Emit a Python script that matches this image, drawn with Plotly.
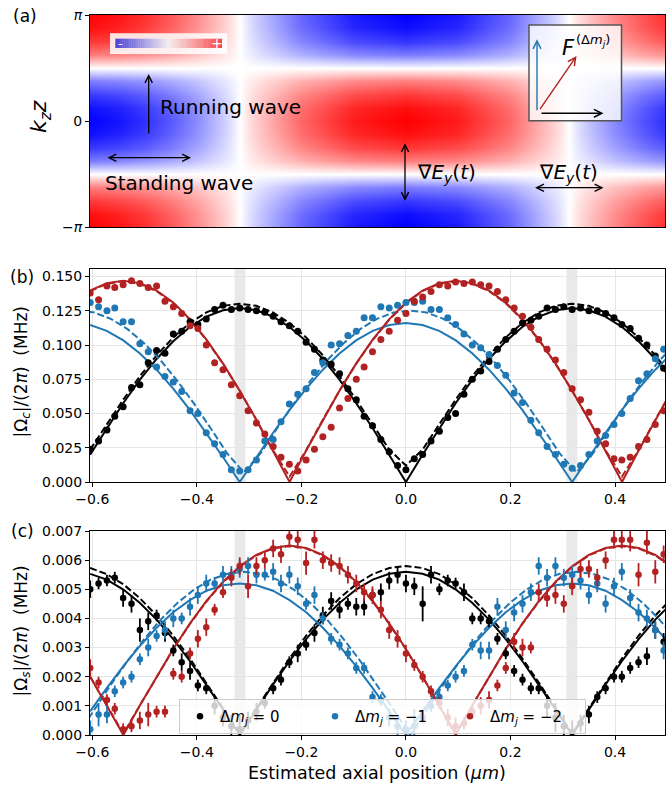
import plotly.graph_objects as go
import math

PI = math.pi

# ---------------- panel (a): field map samples ----------------
field_x = [-0.6045, -0.55, -0.5, -0.45, -0.4, -0.35, -0.335, -0.318, -0.30, -0.28, -0.2, -0.1, 0.0,
           0.1, 0.2, 0.28, 0.295, 0.312, 0.33, 0.35, 0.4, 0.45, 0.4956]
field_x_profile = [-0.99, -0.924, -0.812, -0.654, -0.453, -0.208, -0.12, 0.0, 0.128, 0.24, 0.60, 0.897, 1.0,
                   0.897, 0.60, 0.207, 0.122, 0.0, -0.128, -0.24, -0.475, -0.666, -0.818]
field_kz = [-3.1416, -2.7489, -2.3562, -1.9635, -1.5708, -1.1781, -0.7854, -0.3927, 0.0,
            0.3927, 0.7854, 1.1781, 1.5708, 1.9635, 2.3562, 2.7489, 3.1416]
field_kz_profile = [-1.0, -0.946, -0.785, -0.511, 0.0, 0.511, 0.785, 0.946, 1.0,
                    0.946, 0.785, 0.511, 0.0, -0.511, -0.785, -0.946, -1.0]

# ---------------- fit curves ----------------
x_curve = [-0.6042, -0.5724, -0.5406, -0.5088, -0.477, -0.4452, -0.4134, -0.3816, -0.3498, -0.318,
           -0.2862, -0.2544, -0.2226, -0.1908, -0.159, -0.1272, -0.0954, -0.0636, -0.0318, 0.0,
           0.0318, 0.0636, 0.0954, 0.1272, 0.159, 0.1908, 0.2226, 0.2544, 0.2862, 0.318,
           0.3498, 0.3816, 0.4134, 0.4452, 0.477, 0.5088]
x_curve_shift = [-0.628, -0.5962, -0.5644, -0.5326, -0.5008, -0.469, -0.4372, -0.4054, -0.3736, -0.3418,
                 -0.31, -0.2782, -0.2464, -0.2146, -0.1828, -0.151, -0.1192, -0.0874, -0.0556, -0.0238,
                 0.008, 0.0398, 0.0716, 0.1034, 0.1352, 0.167, 0.1988, 0.2306, 0.2624, 0.2942,
                 0.326, 0.3578, 0.3896, 0.4214, 0.4532, 0.485, 0.5168]

# panel (b)
b_black_fit = [.0199, .0392, .0577, .0747, .0898, .1027, .1132, .1208, .1254, .127, .1254, .1208, .1132, .1027,
               .0898, .0747, .0577, .0392, .0199, 0, .0199, .0392, .0577, .0747, .0898, .1027, .1132, .1208,
               .1254, .127, .1254, .1208, .1132, .1027, .0898, .0747]
b_black_fit2 = [.0236, .042, .0602, .0773, .0925, .1055, .116, .1238, .1286, .1302, .1286, .1238, .116, .1055,
                .0925, .0773, .0602, .042, .0236, .012, .0236, .042, .0602, .0773, .0925, .1055, .116, .1238,
                .1286, .1302, .1286, .1238, .116, .1055, .0925, .0773]
b_blue_fit = [.1146, .1103, .1034, .0938, .082, .0682, .0527, .0358, .0181, 0, .0181, .0358, .0527, .0682,
              .082, .0938, .1034, .1103, .1146, .116, .1146, .1103, .1034, .0938, .082, .0682, .0527, .0358,
              .0181, 0, .0181, .0358, .0527, .0682, .082, .0938]
b_blue_fit2 = [.1252, .1237, .1191, .1116, .1013, .0887, .0738, .0572, .0392, .0208, .007, .0208, .0392, .0572,
               .0738, .0887, .1013, .1116, .1191, .1237, .1252, .1237, .1191, .1116, .1013, .0887, .0738, .0572,
               .0392, .0208, .007, .0208, .0392, .0572, .0738, .0887, .1013]
b_red_fit = [.1398, .1452, .147, .1452, .1398, .131, .1189, .1039, .0864, .0667, .0454, .023, 0, .023, .0454,
             .0667, .0864, .1039, .1189, .131, .1398, .1452, .147, .1452, .1398, .131, .1189, .1039, .0864,
             .0667, .0454, .023, 0, .023, .0454, .0667]
b_red_fit2 = [.1393, .1447, .1465, .1447, .1393, .1305, .1185, .1036, .0862, .0666, .0455, .0233, .004, .0233,
              .0455, .0666, .0862, .1036, .1185, .1305, .1393, .1447, .1465, .1447, .1393, .1305, .1185, .1036,
              .0862, .0666, .0455, .0233, .004, .0233, .0455, .0666]

# panel (c)
c_black_fit = [.00553, .00533, .00499, .00453, .00396, .00329, .00254, .00173, .00088, 0, .00088, .00173,
               .00254, .00329, .00396, .00453, .00499, .00533, .00553, .0056, .00553, .00533, .00499, .00453,
               .00396, .00329, .00254, .00173, .00088, 0, .00088, .00173, .00254, .00329, .00396, .00453]
c_black_fit2 = [.00573, .00552, .00517, .00469, .0041, .00341, .00263, .00179, .00091, .00005, .00091, .00179,
                .00263, .00341, .0041, .00469, .00517, .00552, .00573, .0058, .00573, .00552, .00517, .00469,
                .0041, .00341, .00263, .00179, .00091, .00005, .00091, .00179, .00263, .00341, .0041, .00469]
c_blue_fit = [.00081, .00161, .00236, .00306, .00368, .00421, .00463, .00495, .00514, .0052, .00514, .00495,
              .00463, .00421, .00368, .00306, .00236, .00161, .00081, 0, .00081, .00161, .00236, .00306,
              .00368, .00421, .00463, .00495, .00514, .0052, .00514, .00495, .00463, .00421, .00368, .00306]
c_blue_fit2 = [0, .00088, .00173, .00254, .00329, .00396, .00453, .00499, .00533, .00553, .0056, .00553,
               .00533, .00499, .00453, .00396, .00329, .00254, .00173, .00088, 0, .00088, .00173, .00254,
               .00329, .00396, .00453, .00499, .00533, .00553, .0056, .00553, .00533, .00499, .00453, .00396,
               .00329]
c_red_fit = [.00201, .00102, 0, .00102, .00201, .00295, .00382, .0046, .00526, .00579, .00618, .00642, .0065,
             .00642, .00618, .00579, .00526, .0046, .00382, .00295, .00201, .00102, 0, .00102, .00201, .00295,
             .00382, .0046, .00526, .00579, .00618, .00642, .0065, .00642, .00618, .00579]
c_red_fit2 = [.002, .00102, .00005, .00102, .002, .00294, .00381, .00458, .00524, .00577, .00616, .0064, .00648,
              .0064, .00616, .00577, .00524, .00458, .00381, .00294, .002, .00102, .00005, .00102, .002, .00294,
              .00381, .00458, .00524, .00577, .00616, .0064, .00648, .0064, .00616, .00577]

x_pos = [-0.604, -0.588, -0.572, -0.557, -0.541, -0.525, -0.509, -0.493, -0.477, -0.461,
         -0.445, -0.429, -0.413, -0.398, -0.382, -0.366, -0.350, -0.334, -0.318, -0.302,
         -0.286, -0.270, -0.254, -0.239, -0.223, -0.207, -0.191, -0.175, -0.159, -0.143,
         -0.127, -0.111, -0.095, -0.080, -0.064, -0.048, -0.032, -0.016, 0.000, 0.016,
         0.032, 0.048, 0.064, 0.080, 0.095, 0.111, 0.127, 0.143, 0.159, 0.175,
         0.191, 0.207, 0.223, 0.239, 0.254, 0.270, 0.286, 0.302, 0.318, 0.334,
         0.350, 0.366, 0.382, 0.398, 0.413, 0.429, 0.445, 0.461, 0.477, 0.493]

b_black = [.024, .030, .038, .048, .055, .069, .071, .087, .096, .094,
           .108, .110, .117, .115, .119, .126, .129, .126, .127, .126,
           .125, .124, .121, .117, .114, .110, .102, .097, .089, .086,
           .079, .068, .060, .048, .041, .031, .022, .012, .009, .017,
           .020, .030, .037, .047, .050, .064, .075, .081, .088, .097,
           .104, .110, .116, .118, .121, .127, .126, .128, .126, .127,
           .125, .125, .123, .120, .115, .112, .105, .100, .092, .083]
b_blue = [.131, .128, .125, .127, .117, .117, .101, .095, .084, .077,
          .073, .066, .052, .050, .036, .028, .020, .009, .008, .009,
          .016, .030, .031, .044, .057, .064, .068, .080, .087, .100,
          .101, .107, .110, .120, .120, .128, .127, .129, .131, .131,
          .132, .126, .126, .120, .115, .108, .100, .098, .093, .085,
          .078, .065, .058, .045, .036, .026, .020, .013, .010, .012,
          .020, .030, .034, .042, .050, .061, .074, .079, .090, .097]
b_red = [.138, .133, .143, .142, .144, .147, .145, .142, .143, .132,
         .128, .123, .114, .112, .100, .087, .082, .071, .063, .052,
         .043, .035, .026, .018, .013, .008, .016, .024, .033, .040,
         .054, .061, .075, .084, .095, .104, .110, .118, .123, .132,
         .135, .139, .144, .143, .146, .145, .146, .144, .143, .139,
         .133, .127, .121, .113, .104, .097, .089, .080, .068, .060,
         .051, .037, .028, .017, .016, .018, .026, .031, .042, .052]

c_black = [.0050, .0052, .0053, .0054, .0047, .0045, .0036, .0039, .0041, .0035,
           .0029, .0025, .0022, .0017, .0016, .0010, .0006, .0003, .0002, .0005,
           .0008, .0011, .0016, .0019, .0025, .0028, .0031, .0035, .0041, .0046,
           .0043, .0045, .0044, .0044, .0048, .0049, .0053, .0055, .0052, .0051,
           .0045, .0055, .0050, .0053, .0052, .0049, .0040, .0040, .0039, .0033,
           .0028, .0022, .0019, .0016, .0016, .0010, .0006, .0003, .0001, .0004,
           .0007, .0013, .0016, .0020, .0020, .0023, .0025, .0027, .0036, .0032]
c_blue = [.0002, .0007, .0007, .0015, .0018, .0020, .0026, .0030, .0034, .0036,
          .0040, .0040, .0044, .0048, .0052, .0052, .0055, .0055, .0057, .0058,
          .0055, .0055, .0056, .0052, .0055, .0051, .0045, .0048, .0040, .0033,
          .0031, .0028, .0023, .0023, .0013, .0012, .0006, .0003, .0002, .0003,
          .0006, .0010, .0013, .0017, .0020, .0022, .0031, .0029, .0029, .0044,
          .0036, .0042, .0045, .0049, .0058, .0054, .0058, .0054, .0055, .0053,
          .0048, .0052, .0045, .0051, .0056, .0047, .0042, .0040, .0036, .0029]
c_red = [.0023, .0018, .0012, .0009, .0002, .0003, .0005, .0007, .0008, .0008,
         .0021, .0020, .0028, .0033, .0037, .0043, .0049, .0054, .0058, .0051,
         .0058, .0060, .0064, .0062, .0068, .0067, .0059, .0067, .0060, .0059,
         .0058, .0055, .0052, .0049, .0048, .0043, .0036, .0033, .0028, .0024,
         .0020, .0015, .0011, .0006, .0003, .0004, .0008, .0010, .0012, .0017,
         .0023, .0032, .0030, .0030, .0049, .0047, .0048, .0045, .0051, .0057,
         .0057, .0054, .0060, .0067, .0067, .0067, .0055, .0066, .0056, .0062]

# error bars of panel (c), in units of 1e-4 MHz
c_black_err_e4 = [3, 2, 2, 2, 3, 3, 4, 3, 2, 3, 2, 3, 3, 2, 2, 3, 3, 4, 5, 3,
                  3, 2, 2, 2, 2, 3, 2, 3, 3, 3, 3, 2, 3, 3, 2, 3, 3, 3, 3, 3,
                  6, 3, 2, 2, 2, 3, 2, 2, 2, 2, 2, 2, 2, 2, 2, 4, 5, 4, 4, 3,
                  3, 2, 2, 2, 2, 2, 2, 3, 3, 3]
c_blue_err_e4 = [3, 4, 3, 2, 2, 2, 2, 3, 2, 3, 3, 2, 3, 3, 3, 2, 3, 3, 3, 3,
                 3, 2, 3, 3, 3, 3, 2, 3, 2, 2, 2, 2, 2, 2, 2, 2, 3, 4, 3, 6,
                 2, 2, 2, 2, 2, 2, 2, 3, 3, 3, 3, 3, 3, 3, 3, 3, 3, 3, 3, 3,
                 3, 3, 3, 3, 3, 3, 3, 3, 3, 3]
c_red_err_e4 = [3, 2, 2, 2, 2, 2, 3, 4, 2, 2, 2, 2, 2, 3, 3, 2, 2, 3, 3, 4,
                3, 3, 3, 3, 3, 3, 4, 3, 3, 3, 3, 3, 3, 3, 3, 3, 3, 3, 3, 2,
                2, 2, 2, 3, 3, 2, 2, 3, 3, 2, 2, 3, 3, 2, 3, 3, 3, 3, 3, 3,
                3, 3, 3, 3, 3, 4, 4, 4, 4, 3]

series_names = ["Δ<i>m</i><sub><i>j</i></sub> = 0", "Δ<i>m</i><sub><i>j</i></sub> = −1",
                "Δ<i>m</i><sub><i>j</i></sub> = −2"]
band_edges = [(-0.328, -0.307), (0.307, 0.328)]
b_yticks = [0.0, 0.025, 0.05, 0.075, 0.1, 0.125, 0.15]
c_yticks = [0.0, 0.001, 0.002, 0.003, 0.004, 0.005, 0.006, 0.007]
x_ticks = [-0.6, -0.4, -0.2, 0.0, 0.2, 0.4]

# ---------------- styling ----------------
BLACK = "#000000"
BLUE = "#1f77b4"
RED = "#b22222"
FONT = "DejaVu Sans"
W, H = 672, 785
ML, MR, MT, MB = 90, 7, 15, 50
PW, PH = W - ML - MR, H - MT - MB


def px(x):
    return (x - ML) / PW


def py(y):
    return (H - MB - y) / PH


fig = go.Figure()

# panel (a) heatmap
z_field = [[c * a for a in field_x_profile] for c in field_kz_profile]
bwr = [[0.0, "rgb(0,0,255)"], [0.5, "rgb(255,255,255)"], [1.0, "rgb(255,0,0)"]]
fig.add_trace(go.Heatmap(x=field_x, y=field_kz, z=z_field, colorscale=bwr, zmin=-1, zmax=1,
                         zsmooth="best", showscale=False, hoverinfo="skip", xaxis="x", yaxis="y"))

# fit curves
DASH = "7px,3px"
curve_specs = [
    ("x2", "y2", x_curve, b_black_fit, BLACK, "solid"),
    ("x2", "y2", x_curve, b_black_fit2, BLACK, DASH),
    ("x2", "y2", x_curve, b_blue_fit, BLUE, "solid"),
    ("x2", "y2", x_curve_shift, b_blue_fit2, BLUE, DASH),
    ("x2", "y2", x_curve, b_red_fit, RED, "solid"),
    ("x2", "y2", x_curve, b_red_fit2, RED, DASH),
    ("x3", "y3", x_curve, c_black_fit, BLACK, "solid"),
    ("x3", "y3", x_curve, c_black_fit2, BLACK, DASH),
    ("x3", "y3", x_curve, c_blue_fit, BLUE, "solid"),
    ("x3", "y3", x_curve_shift, c_blue_fit2, BLUE, DASH),
    ("x3", "y3", x_curve, c_red_fit, RED, "solid"),
    ("x3", "y3", x_curve, c_red_fit2, RED, DASH),
]
for xa, ya, xs, ys, col, dash in curve_specs:
    fig.add_trace(go.Scatter(x=xs, y=ys, mode="lines", xaxis=xa, yaxis=ya, showlegend=False,
                             line=dict(color=col, width=2, dash=dash), hoverinfo="skip"))

# measured points panel (b)
for ys, col in [(b_black, BLACK), (b_blue, BLUE), (b_red, RED)]:
    fig.add_trace(go.Scatter(x=x_pos, y=ys, mode="markers", xaxis="x2", yaxis="y2", showlegend=False,
                             marker=dict(color=col, size=7, line=dict(width=0))))

# measured points panel (c)
for ys, err, col, name in [(c_black, c_black_err_e4, BLACK, series_names[0]),
                           (c_blue, c_blue_err_e4, BLUE, series_names[1]),
                           (c_red, c_red_err_e4, RED, series_names[2])]:
    fig.add_trace(go.Scatter(x=x_pos, y=ys, mode="markers", xaxis="x3", yaxis="y3", name=name,
                             marker=dict(color=col, size=6.5, line=dict(width=0)),
                             error_y=dict(type="data", array=[e * 1e-4 for e in err], color=col,
                                          thickness=1.8, width=0)))

# ---------------- axes ----------------
XR = [-0.6044, 0.4956]
tickfont = dict(family=FONT, size=14, color="black")
base_axis = dict(showline=True, linecolor="black", linewidth=1, mirror=True, zeroline=False,
                 ticks="outside", ticklen=4, tickwidth=1, tickcolor="black", tickfont=tickfont)

dom_a = [py(227), py(15)]
dom_b = [py(482), py(269)]
dom_c = [py(735), py(531)]

fig.update_layout(
    xaxis=dict(base_axis, range=XR, anchor="y", domain=[0, 1], showgrid=False, ticks="",
               showticklabels=False),
    yaxis=dict(base_axis, range=[-PI, PI], domain=dom_a, anchor="x", showgrid=False,
               tickvals=[-PI, 0, PI], ticktext=["−<i>π</i>", "0", "<i>π</i>"]),
    xaxis2=dict(base_axis, range=XR, anchor="y2", domain=[0, 1], tickvals=x_ticks, tickformat=".1f",
                showgrid=True, gridcolor="#e6e6e6", gridwidth=1),
    yaxis2=dict(base_axis, range=[0, 0.1555], domain=dom_b, anchor="x2", tickvals=b_yticks,
                tickformat=".3f", showgrid=True, gridcolor="#e6e6e6", gridwidth=1),
    xaxis3=dict(base_axis, range=XR, anchor="y3", domain=[0, 1], tickvals=x_ticks, tickformat=".1f",
                showgrid=True, gridcolor="#e6e6e6", gridwidth=1),
    yaxis3=dict(base_axis, range=[0, 0.007], domain=dom_c, anchor="x3", tickvals=c_yticks,
                tickformat=".3f", showgrid=True, gridcolor="#e6e6e6", gridwidth=1),
)

# ---------------- shapes ----------------
shapes = []
for xa, ya in [("x2", "y2 domain"), ("x3", "y3 domain")]:
    for x0, x1 in band_edges:
        shapes.append(dict(type="rect", xref=xa, yref=ya, x0=x0, x1=x1, y0=0, y1=1, layer="below",
                           fillcolor="#e9e9e9", line=dict(width=0)))

# small colour-bar inset in panel (a)
shapes.append(dict(type="rect", xref="paper", yref="paper", x0=px(110), x1=px(227.3), y0=py(54), y1=py(33.3),
                   fillcolor="rgba(255,255,255,0.85)", line=dict(width=0)))
NSEG = 60
bx0, bx1 = 115.3, 221.7
for i in range(NSEG):
    t = (i + 0.5) / NSEG
    if t < 0.5:
        f = t / 0.5
        rgb = (75 + f * (245 - 75), 65 + f * (238 - 65), 215 + f * (240 - 215))
    else:
        f = (t - 0.5) / 0.5
        rgb = (245 + f * (250 - 245), 238 + f * (70 - 238), 240 + f * (70 - 240))
    xa0 = bx0 + (bx1 - bx0) * i / NSEG
    xa1 = bx0 + (bx1 - bx0) * (i + 1) / NSEG + 0.3
    shapes.append(dict(type="rect", xref="paper", yref="paper", x0=px(xa0), x1=px(xa1), y0=py(48),
                       y1=py(38.7), fillcolor="rgb(%d,%d,%d)" % tuple(int(v) for v in rgb),
                       line=dict(width=0)))

# vector inset box in panel (a)
shapes.append(dict(type="rect", xref="paper", yref="paper", x0=px(529), x1=px(621.5), y0=py(120.7), y1=py(25),
                   fillcolor="rgba(255,255,255,0.8)", line=dict(color="#555555", width=1.5)))
fig.update_layout(shapes=shapes)

# ---------------- annotations ----------------
ann = []


def text(x, y, s, size, color="black", xanchor="center", angle=0):
    ann.append(dict(xref="paper", yref="paper", x=px(x), y=py(y), text=s, showarrow=False,
                    xanchor=xanchor, yanchor="middle", textangle=angle,
                    font=dict(family=FONT, size=size, color=color)))


def arrow(x0, y0, x1, y1, color="black", both=False, width=1.3):
    ann.append(dict(xref="paper", yref="paper", x=px(x1), y=py(y1), ax=x0 - x1, ay=y0 - y1,
                    axref="pixel", ayref="pixel", text="", showarrow=True, arrowhead=5,
                    startarrowhead=5, arrowside="end+start" if both else "end", arrowsize=1.1,
                    startarrowsize=1.1, arrowwidth=width, arrowcolor=color, standoff=0,
                    startstandoff=0))


text(25, 16, "(a)", 17)
text(22, 277, "(b)", 17)
text(22, 531, "(c)", 17)
text(40, 117, "<i>k<sub>z</sub>z</i>", 22, angle=-90)
text(21.5, 372, "|Ω<sub><i>c</i></sub>|/(2<i>π</i>)  (MHz)", 17, angle=-90)
text(21.5, 631, "|Ω<sub><i>s</i></sub>|/(2<i>π</i>)  (MHz)", 17, angle=-90)
text(377, 773, "Estimated axial position (<i>μm</i>)", 17.5)

text(158, 107, "Running wave", 20, xanchor="left")
text(103, 183, "Standing wave", 20, xanchor="left")
text(415, 173, "∇<i>E<sub>y</sub></i>(<i>t</i>)", 20, xanchor="left")
text(537, 173, "∇<i>E<sub>y</sub></i>(<i>t</i>)", 20, xanchor="left")
arrow(148.7, 135, 148.7, 74)
arrow(106, 157.7, 191, 157.7, both=True)
arrow(405, 141.7, 405, 201, both=True)
arrow(533.6, 187.7, 603.5, 187.7, both=True)

text(120, 43.3, "-", 13, color="white")
text(216.7, 43, "+", 14, color="white")

arrow(537, 111.7, 537, 39.3, color=BLUE, width=1.4)
arrow(540, 113.3, 603.5, 113.3, color=BLACK, width=1.4)
arrow(539, 110.7, 576.5, 56, color=RED, width=1.4)
text(568, 48, "<i>F</i>", 21)
text(593, 41, "(Δ<i>m<sub>j</sub></i>)", 13)

fig.update_layout(annotations=ann)

fig.update_layout(
    width=W, height=H, margin=dict(l=ML, r=MR, t=MT, b=MB),
    paper_bgcolor="white", plot_bgcolor="white",
    font=dict(family=FONT, size=14, color="black"),
    showlegend=True,
    legend=dict(orientation="h", x=px(179), y=py(699), xanchor="left", yanchor="top",
                bgcolor="rgba(255,255,255,0.8)", bordercolor="#cccccc", borderwidth=1,
                font=dict(family=FONT, size=15, color="black"), itemwidth=30, tracegroupgap=0,
                entrywidth=90, entrywidthmode="pixels"),
)

fig.write_html("out.html")
